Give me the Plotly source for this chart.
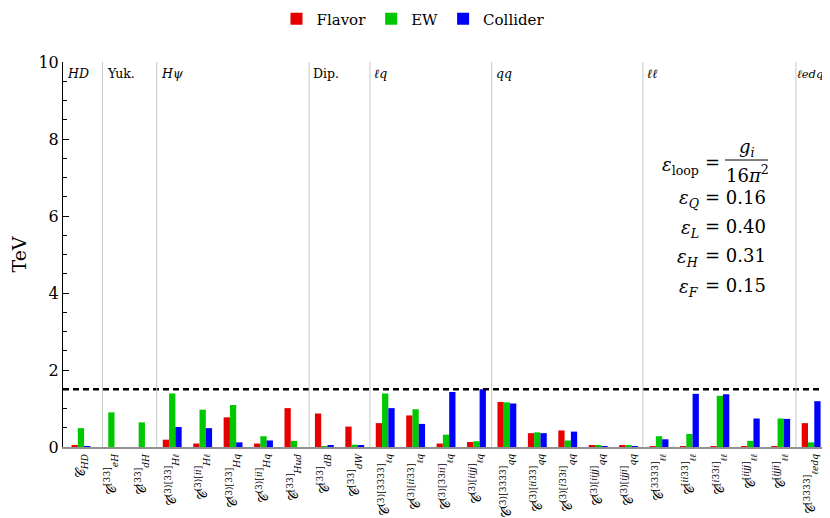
import plotly.graph_objects as go

# ---- data ----
categories = [
    "𝒞<sub><i>HD</i></sub>",
    "𝒞<sup>[33]</sup><sub><i>eH</i></sub>",
    "𝒞<sup>[33]</sup><sub><i>dH</i></sub>",
    "𝒞<sup>(3)[33]</sup><sub><i>Hℓ</i></sub>",
    "𝒞<sup>(3)[<i>ii</i>]</sup><sub><i>Hℓ</i></sub>",
    "𝒞<sup>(3)[33]</sup><sub><i>Hq</i></sub>",
    "𝒞<sup>(3)[<i>ii</i>]</sup><sub><i>Hq</i></sub>",
    "𝒞<sup>[33]</sup><sub><i>Hud</i></sub>",
    "𝒞<sup>[33]</sup><sub><i>dB</i></sub>",
    "𝒞<sup>[33]</sup><sub><i>dW</i></sub>",
    "𝒞<sup>(3)[3333]</sup><sub><i>ℓq</i></sub>",
    "𝒞<sup>(3)[<i>ii</i>33]</sup><sub><i>ℓq</i></sub>",
    "𝒞<sup>(3)[33<i>ii</i>]</sup><sub><i>ℓq</i></sub>",
    "𝒞<sup>(3)[<i>iijj</i>]</sup><sub><i>ℓq</i></sub>",
    "𝒞<sup>(3)[3333]</sup><sub><i>qq</i></sub>",
    "𝒞<sup>(3)[<i>ii</i>33]</sup><sub><i>qq</i></sub>",
    "𝒞<sup>(3)[<i>i</i>33<i>i</i>]</sup><sub><i>qq</i></sub>",
    "𝒞<sup>(3)[<i>iijj</i>]</sup><sub><i>qq</i></sub>",
    "𝒞<sup>(3)[<i>ijji</i>]</sup><sub><i>qq</i></sub>",
    "𝒞<sup>[3333]</sup><sub><i>ℓℓ</i></sub>",
    "𝒞<sup>[<i>ii</i>33]</sup><sub><i>ℓℓ</i></sub>",
    "𝒞<sup>[<i>i</i>33<i>i</i>]</sup><sub><i>ℓℓ</i></sub>",
    "𝒞<sup>[<i>iijj</i>]</sup><sub><i>ℓℓ</i></sub>",
    "𝒞<sup>[<i>ijji</i>]</sup><sub><i>ℓℓ</i></sub>",
    "𝒞<sup>[3333]</sup><sub><i>ℓedq</i></sub>",
]
flavor = [0.04, 0.0, 0.0, 0.19, 0.09, 0.77, 0.09, 1.01, 0.87, 0.53,
          0.62, 0.82, 0.09, 0.13, 1.17, 0.36, 0.43, 0.04, 0.04,
          0.01, 0.01, 0.02, 0.01, 0.01, 0.62]
ew = [0.49, 0.90, 0.64, 1.39, 0.97, 1.09, 0.28, 0.16, 0.01, 0.06,
      1.39, 0.98, 0.32, 0.15, 1.16, 0.38, 0.17, 0.04, 0.03,
      0.28, 0.34, 1.33, 0.16, 0.74, 0.12]
collider = [0.01, 0.0, 0.0, 0.52, 0.49, 0.12, 0.17, 0.0, 0.03, 0.04,
            1.01, 0.60, 1.43, 1.50, 1.13, 0.36, 0.40, 0.01, 0.01,
            0.20, 1.38, 1.37, 0.74, 0.73, 1.19]
threshold = 1.5
sections = ["<i>HD</i>", "Yuk.", "<i>Hψ</i>", "Dip.", "<i>ℓq</i>", "<i>qq</i>", "<i>ℓℓ</i>", "<i>ℓedq</i>"]
separators = [0.71, 2.49, 7.5, 9.5, 13.5, 18.47, 23.5]
section_x = [-0.53, 0.78, 2.56, 7.57, 9.57, 13.57, 18.54, 23.56]
eps_names = ["ε<sub><i>Q</i></sub>", "ε<sub><i>L</i></sub>", "ε<sub><i>H</i></sub>", "ε<sub><i>F</i></sub>"]
eps_values = ["0.16", "0.40", "0.31", "0.15"]

xs = list(range(len(categories)))
FONT = "DejaVu Serif"

fig = go.Figure()
for name, vals, col in [("Flavor", flavor, "#e60000"), ("EW", ew, "#00c800"), ("Collider", collider, "#0000ff")]:
    fig.add_trace(go.Bar(x=xs, y=vals, name=name, marker=dict(color=col, line=dict(width=0))))

# page offset (body margin) and plot-area pixel geometry in the screenshot
OFF = 8
W, H = 830 - OFF, 518 - OFF
L, R, T, B = 63 - OFF, 0, 62 - OFF, 71
pw, ph = W - L - R, H - T - B
def px(x):
    return (x - OFF - L) / pw
def py(y):
    return (H - B - (y - OFF)) / ph

# threshold line
fig.add_shape(type="line", xref="paper", x0=0, x1=1, yref="y", y0=threshold, y1=threshold,
              line=dict(color="black", width=2.5, dash="6px,4px"))
# separators
for s in separators:
    fig.add_shape(type="line", xref="x", x0=s, x1=s, yref="paper", y0=0, y1=1,
                  line=dict(color="#c8c8c8", width=1))
sfont = dict(family=FONT, size=12.5, color="black")
for k, (sx, st) in enumerate(zip(section_x, sections)):
    if k == len(sections) - 1:
        fig.add_annotation(x=sx - 0.08, y=9.7, xref="x", yref="y", text=st, showarrow=False,
                           xanchor="left", yanchor="middle",
                           font=dict(family=FONT, size=11.5, color="black"))
    else:
        fig.add_annotation(x=sx, y=9.7, xref="x", yref="y", text=st, showarrow=False,
                           xanchor="left", yanchor="middle", font=sfont)

# epsilon box
efont = dict(family=FONT, size=18, color="black")
fig.add_annotation(x=px(701), y=py(166), xref="paper", yref="paper", text="<i>ε</i><sub>loop</sub>",
                   showarrow=False, xanchor="right", yanchor="middle", font=efont)
fig.add_annotation(x=px(703), y=py(162), xref="paper", yref="paper", text="=",
                   showarrow=False, xanchor="left", yanchor="middle", font=efont)
fig.add_annotation(x=px(747), y=py(148), xref="paper", yref="paper", text="<i>g</i><sub><i>i</i></sub>",
                   showarrow=False, xanchor="center", yanchor="middle", font=efont)
fig.add_shape(type="line", xref="paper", yref="paper", x0=px(725), x1=px(768), y0=py(160), y1=py(160),
              line=dict(color="black", width=1))
fig.add_annotation(x=px(747), y=py(174), xref="paper", yref="paper", text="16<i>π</i><sup>2</sup>",
                   showarrow=False, xanchor="center", yanchor="middle", font=efont)
for i, (n, v) in enumerate(zip(eps_names, eps_values)):
    yy = 197 + 29.5 * i
    fig.add_annotation(x=px(701), y=py(yy + 2), xref="paper", yref="paper", text="<i>" + n[:1] + "</i>" + n[1:],
                       showarrow=False, xanchor="right", yanchor="middle", font=efont)
    fig.add_annotation(x=px(703), y=py(yy), xref="paper", yref="paper", text="= " + v,
                       showarrow=False, xanchor="left", yanchor="middle", font=efont)

fig.update_layout(
    width=W, height=H,
    margin=dict(l=L, r=R, t=T, b=B, autoexpand=False),
    paper_bgcolor="white", plot_bgcolor="white",
    barmode="group", bargap=0.38, bargroupgap=0.0,
    font=dict(family=FONT, color="black"),
    legend=dict(orientation="h", x=px(413), xanchor="center", y=py(19), yanchor="middle",
                font=dict(family=FONT, size=15), itemwidth=30, traceorder="normal"),
    xaxis=dict(range=[-0.59, 24.62], tickmode="array", tickvals=xs, ticktext=categories,
               tickangle=-90, ticks="", showgrid=False, zeroline=False,
               showline=True, linecolor="#909090", linewidth=1.5,
               tickfont=dict(family=FONT, size=13, color="black")),
    yaxis=dict(range=[0, 10], dtick=2, ticks="inside", ticklen=6, tickcolor="black",
               showgrid=False, zeroline=False, showline=True, linecolor="black", linewidth=1,
               tickfont=dict(family=FONT, size=16, color="black"),
               minor=dict(dtick=0.5, ticks="inside", ticklen=4, tickcolor="black", showgrid=False),
               title=dict(text="TeV", font=dict(family=FONT, size=19), standoff=14)),
)

fig.write_html("out.html")
